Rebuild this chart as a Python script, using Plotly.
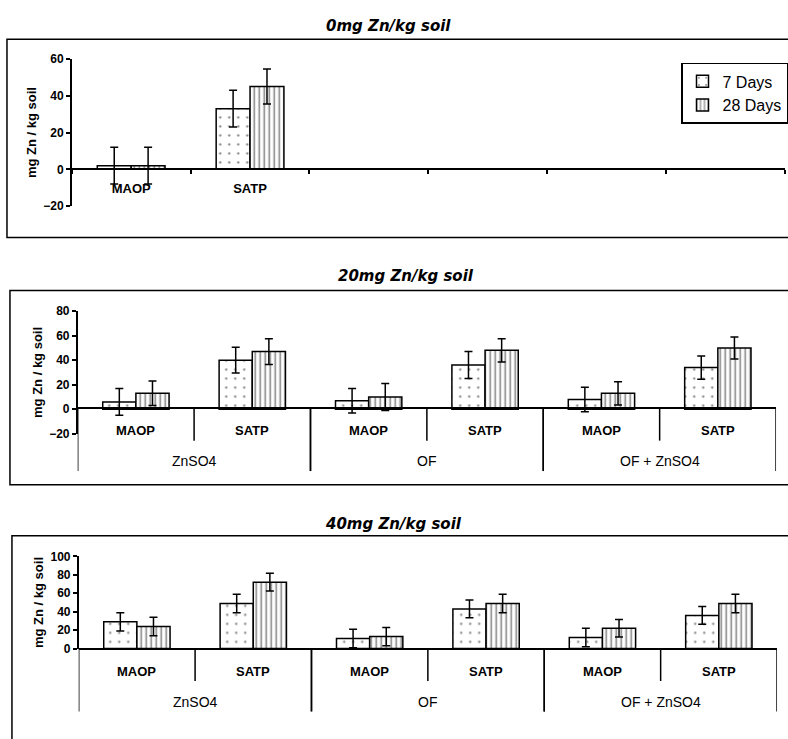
import plotly.graph_objects as go

# ---------------- data ----------------
series_names = ["7 Days", "28 Days"]

top_title = "0mg Zn/kg soil"
mid_title = "20mg Zn/kg soil"
bot_title = "40mg Zn/kg soil"

top_cats = ["MAOP", "SATP"]
top_slots = ["MAOP", "SATP", " ", "  ", "   ", "    "]
top_7d = [2, 33]
top_7d_err = [10, 10]
top_28d = [2, 45]
top_28d_err = [10, 9.5]

groups = ["ZnSO4", "ZnSO4", "OF", "OF", "OF + ZnSO4", "OF + ZnSO4"]
subcats = ["MAOP", "SATP", "MAOP", "SATP", "MAOP", "SATP"]

mid_7d = [6, 40, 7, 36, 8, 34]
mid_7d_err = [11, 10.5, 10, 11, 10, 9.5]
mid_28d = [13, 47, 10, 48, 13, 50]
mid_28d_err = [10, 10.5, 11, 9.5, 9.5, 9]

bot_7d = [29, 49, 11, 43, 12, 36]
bot_7d_err = [10, 10, 10, 9.6, 10, 9.6]
bot_28d = [24, 72, 13, 49, 22, 49]
bot_28d_err = [10, 9.6, 10, 10, 9.5, 10]

y_title = "mg Zn / kg soil"

# ---------------- layout helpers ----------------
W, H = 788, 739
def px(x):
    return x / W
def py(y):
    return 1 - y / H

FONT = "Liberation Sans, Arial, sans-serif"

def bar_style(kind):
    if kind == 0:
        pat = dict(shape=".", fgcolor="black", bgcolor="white", size=9, solidity=0.05)
    else:
        pat = dict(shape="|", fgcolor="black", bgcolor="white", size=5, solidity=0.3)
    return dict(color="white", line=dict(color="black", width=1.5), pattern=pat)

def err(arr):
    return dict(type="data", array=arr, visible=True, color="black", thickness=1.5, width=4)

fig = go.Figure()

# top panel
fig.add_trace(go.Bar(x=top_cats, y=top_7d, name=series_names[0], marker=bar_style(0),
                     error_y=err(top_7d_err), xaxis="x", yaxis="y", legendgroup="a"))
fig.add_trace(go.Bar(x=top_cats, y=top_28d, name=series_names[1], marker=bar_style(1),
                     error_y=err(top_28d_err), xaxis="x", yaxis="y", legendgroup="b"))
# middle panel
fig.add_trace(go.Bar(x=[groups, subcats], y=mid_7d, name=series_names[0], marker=bar_style(0),
                     error_y=err(mid_7d_err), xaxis="x2", yaxis="y2", showlegend=False))
fig.add_trace(go.Bar(x=[groups, subcats], y=mid_28d, name=series_names[1], marker=bar_style(1),
                     error_y=err(mid_28d_err), xaxis="x2", yaxis="y2", showlegend=False))
# bottom panel
fig.add_trace(go.Bar(x=[groups, subcats], y=bot_7d, name=series_names[0], marker=bar_style(0),
                     error_y=err(bot_7d_err), xaxis="x3", yaxis="y3", showlegend=False))
fig.add_trace(go.Bar(x=[groups, subcats], y=bot_28d, name=series_names[1], marker=bar_style(1),
                     error_y=err(bot_28d_err), xaxis="x3", yaxis="y3", showlegend=False))

tickfont_y = dict(family=FONT, size=12, color="black", weight="bold")
label_font = dict(family=FONT, size=13, color="black", weight="bold")
group_font = dict(family=FONT, size=14, color="black")
ytitle = dict(text=y_title, font=dict(family=FONT, size=13, color="black", weight="bold"), standoff=4)

common_y = dict(showline=True, linecolor="black", linewidth=1.5, ticks="outside", ticklen=4,
                tickcolor="black", tickwidth=1.5, showgrid=False, zeroline=False,
                tickfont=tickfont_y, dtick=20, title=ytitle)

def multicat_axis(x0, x1, axis_y):
    return dict(domain=[px(x0), px(x1)], anchor="free", position=py(axis_y),
                type="multicategory", range=[-0.5, 5.5], ticks="", showticklabels=False,
                showline=True, linecolor="black", linewidth=1.5,
                showgrid=False, showdividers=False)

fig.update_layout(
    width=W, height=H, margin=dict(l=0, r=0, t=0, b=0),
    paper_bgcolor="white", plot_bgcolor="rgba(0,0,0,0)",
    barmode="group", bargap=0.43, bargroupgap=0,
    showlegend=True,
    legend=dict(x=px(684), y=py(57), xanchor="left", yanchor="top",
                bordercolor="black", borderwidth=1.5, bgcolor="white",
                font=dict(family=FONT, size=16, color="black"),
                itemwidth=30, tracegroupgap=3, traceorder="normal"),
    xaxis=dict(domain=[px(72), 1.0], anchor="free", position=py(165),
               type="category", categoryorder="array", categoryarray=top_slots,
               range=[-0.5, 5.5], tickson="boundaries", ticks="outside", ticklen=4,
               tickcolor="black", tickwidth=1.5, ticklabelstandoff=8,
               showline=True, linecolor="black", linewidth=1.5, showgrid=False,
               tickfont=label_font),
    yaxis=dict(domain=[py(203), py(53)], range=[-20, 60], anchor="x", **common_y),
    xaxis2=multicat_axis(78, 779, 409),
    yaxis2=dict(domain=[py(435), py(310)], range=[-20, 80], anchor="x2", **common_y),
    xaxis3=multicat_axis(79, 780, 654),
    yaxis3=dict(domain=[py(654), py(560)], range=[0, 100], anchor="x3", **common_y),
)

# two-level category labels and dividers (positions = category indices on the axis)
group_names = list(dict.fromkeys(groups))
for xr, axis_y in (("x2", 409), ("x3", 654)):
    # sub-category labels and short dividers
    for i, lab in enumerate(subcats):
        fig.add_annotation(text=lab, xref=xr, yref="paper", x=i, y=py(axis_y + 23),
                           showarrow=False, font=label_font, xanchor="center", yanchor="middle")
        if i < len(subcats) - 1 and groups[i + 1] == groups[i]:
            fig.add_shape(type="line", xref=xr, yref="paper", x0=i + 0.5, x1=i + 0.5,
                          y0=py(axis_y), y1=py(axis_y + 33), line=dict(color="black", width=1.5))
    # group labels and long dividers
    for g in group_names:
        idx = [i for i, v in enumerate(groups) if v == g]
        fig.add_annotation(text=g, xref=xr, yref="paper", x=sum(idx) / len(idx),
                           y=py(axis_y + 54), showarrow=False, font=group_font,
                           xanchor="center", yanchor="middle")
        for b in (idx[0] - 0.5, idx[-1] + 0.5):
            fig.add_shape(type="line", xref=xr, yref="paper", x0=b, x1=b,
                          y0=py(axis_y), y1=py(axis_y + 64), line=dict(color="black", width=1.5))

# panel frames
for (x0, y0, y1) in ((7, 33, 235), (10, 289, 487), (12, 539, 760)):
    fig.add_shape(type="rect", xref="paper", yref="paper", x0=px(x0), x1=1.02,
                  y0=py(y1), y1=py(y0), line=dict(color="black", width=1.5), layer="below")

# titles
title_font = dict(family="DejaVu Sans, sans-serif", size=15, color="black", weight="bold", style="italic")
for txt, cx, cy in ((top_title, 390, 19), (mid_title, 408, 274), (bot_title, 395, 527)):
    fig.add_annotation(text=txt, xref="paper", yref="paper", x=px(cx), y=py(cy),
                       showarrow=False, font=title_font, xanchor="center", yanchor="middle")

fig.write_html("out.html")
